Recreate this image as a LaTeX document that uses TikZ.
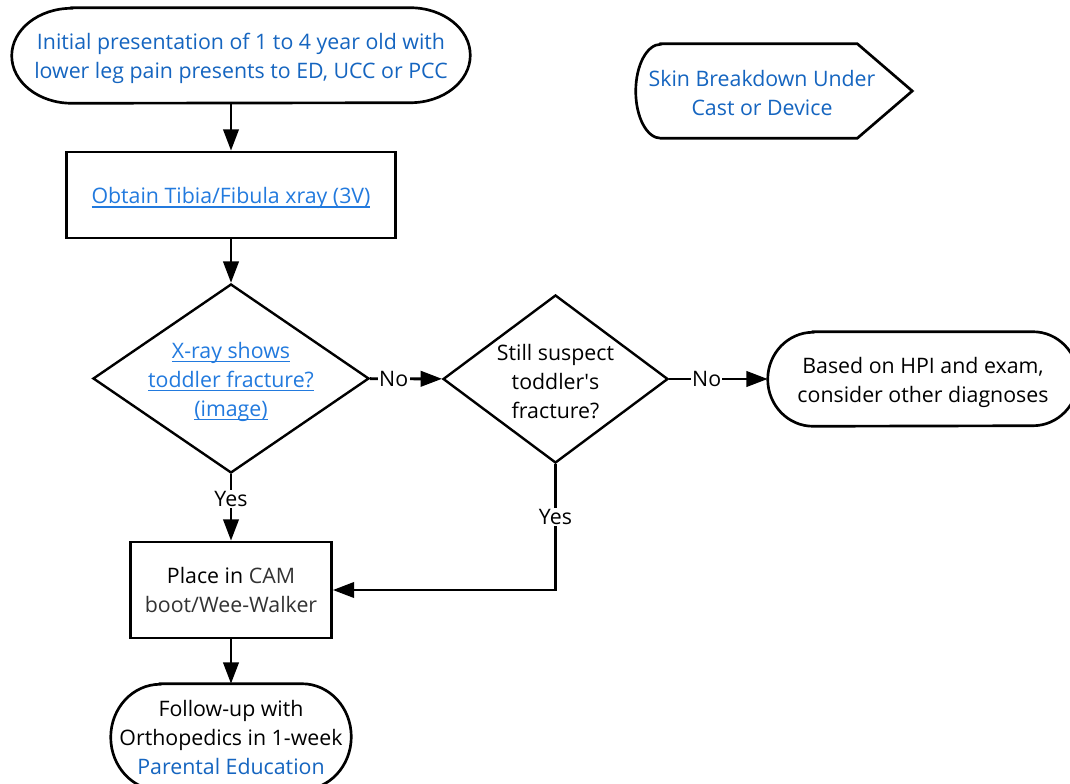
\documentclass[tikz,border=0pt]{standalone}
\usepackage{fontspec}
\setmainfont{Open Sans}
\usetikzlibrary{shapes.geometric,arrows.meta}
\definecolor{tblue}{RGB}{21,101,192}
\definecolor{lblue}{RGB}{34,122,222}
\definecolor{dgray}{RGB}{51,51,51}
\newcommand{\fs}{\fontsize{16}{21.75}\selectfont}
\newcommand{\ulnk}[1]{\setbox0\hbox{#1}\rlap{\rule[-3pt]{\wd0}{1pt}}\box0}
\newcommand{\sq}{{\XeTeXglyph\XeTeXcharglyph"27\relax}}
\newcommand{\termline}[3]{%
  \draw[shp] ([xshift=#2]#1.north west) -- ([xshift=-#2]#1.north east)
    arc[start angle=90,end angle=-90,x radius=#2,y radius=#3]
    -- ([xshift=#2]#1.south west)
    arc[start angle=270,end angle=90,x radius=#2,y radius=#3] -- cycle;}
\tikzset{
  shp/.style={line width=2pt, draw=black},
  box/.style={rectangle, draw, line width=2pt, inner sep=0pt, align=center, font=\fs},
  term/.style={rectangle, inner sep=0pt, align=center, font=\fs},
  dia/.style={diamond, draw, line width=1.8pt, inner sep=0pt},
  dlab/.style={align=center, font=\fs, inner sep=0pt},
  dn/.style={yshift=-2.25pt},
  conn/.style={line width=2.2pt, -{Triangle[length=16pt,width=11.5pt]}},
  lab/.style={fill=white, inner sep=1pt, font=\fs}
}
\begin{document}
\begin{tikzpicture}[x=0.75pt,y=-0.75pt]
\useasboundingbox[fill=white] (0,0) rectangle (1070,784);

\node[term, minimum width=343.5pt, minimum height=71.25pt,
  label={[dlab, dn, text=tblue]center:{Initial presentation of 1 to 4 year old with\\lower leg pain presents to ED, UCC or PCC}}] (top) at (241,55.5) {};
\termline{top}{45pt}{35.625pt}

\node[box, minimum width=246.75pt, minimum height=64.5pt,
  label={[dlab, dn, text=lblue]center:{\ulnk{Obtain Tibia/Fibula xray (3V)}}}] (obtain) at (231,195) {};

\node[dia, minimum width=207pt, minimum height=141.75pt,
  label={[dlab, dn, text=lblue]center:{\ulnk{X-ray shows}\\\ulnk{toddler fracture?}\\\ulnk{(image)}}}] (d1) at (231,378.5) {};

\node[dia, minimum width=168.75pt, minimum height=126pt,
  label={[dlab, dn]center:{Still suspect\\toddler\sq s\\fracture?}}] (d2) at (555.5,379) {};

\node[term, minimum width=232.5pt, minimum height=70.5pt,
  label={[dlab, dn]center:{Based on HPI and exam,\\consider other diagnoses}}] (other) at (923,379) {};
\termline{other}{34pt}{35.25pt}

\node[box, minimum width=150.75pt, minimum height=72pt] (place) at (231,590)
  {Place in {\color{dgray}CAM}\\{\color{dgray}boot/Wee-Walker}};

\node[term, minimum width=180pt, minimum height=79.5pt] (follow) at (231,737)
  {Follow-up with\\Orthopedics in 1-week\\{\color{tblue}Parental Education}};
\termline{follow}{37pt}{39.75pt}

\node[term, minimum width=207pt, minimum height=70.5pt] (skin) at (774,91) {};
\draw[shp] ([xshift=18.75pt]skin.north west) -- ([xshift=-41.25pt]skin.north east)
  -- (skin.east) -- ([xshift=-41.25pt]skin.south east) -- ([xshift=18.75pt]skin.south west)
  arc[start angle=270,end angle=90,x radius=18.75pt,y radius=35.25pt] -- cycle;
\node[dlab, text=tblue] (skintext) at (762,93) {Skin Breakdown Under\\Cast or Device};

\draw[conn] (obtain.north |- top.south) -- (obtain.north);
\draw[conn] (obtain) -- (d1);
\draw[conn] (d1) -- node[lab, pos=0.33]{No} (d2);
\draw[conn] (d2) -- node[lab, pos=0.38]{No} (other);
\draw[conn] (d1) -- node[lab, pos=0.37]{Yes} (place);
\draw[conn] (d2) |- node[lab, pos=0.21]{Yes} (place);
\draw[conn] (place) -- (follow);
\end{tikzpicture}
\end{document}
